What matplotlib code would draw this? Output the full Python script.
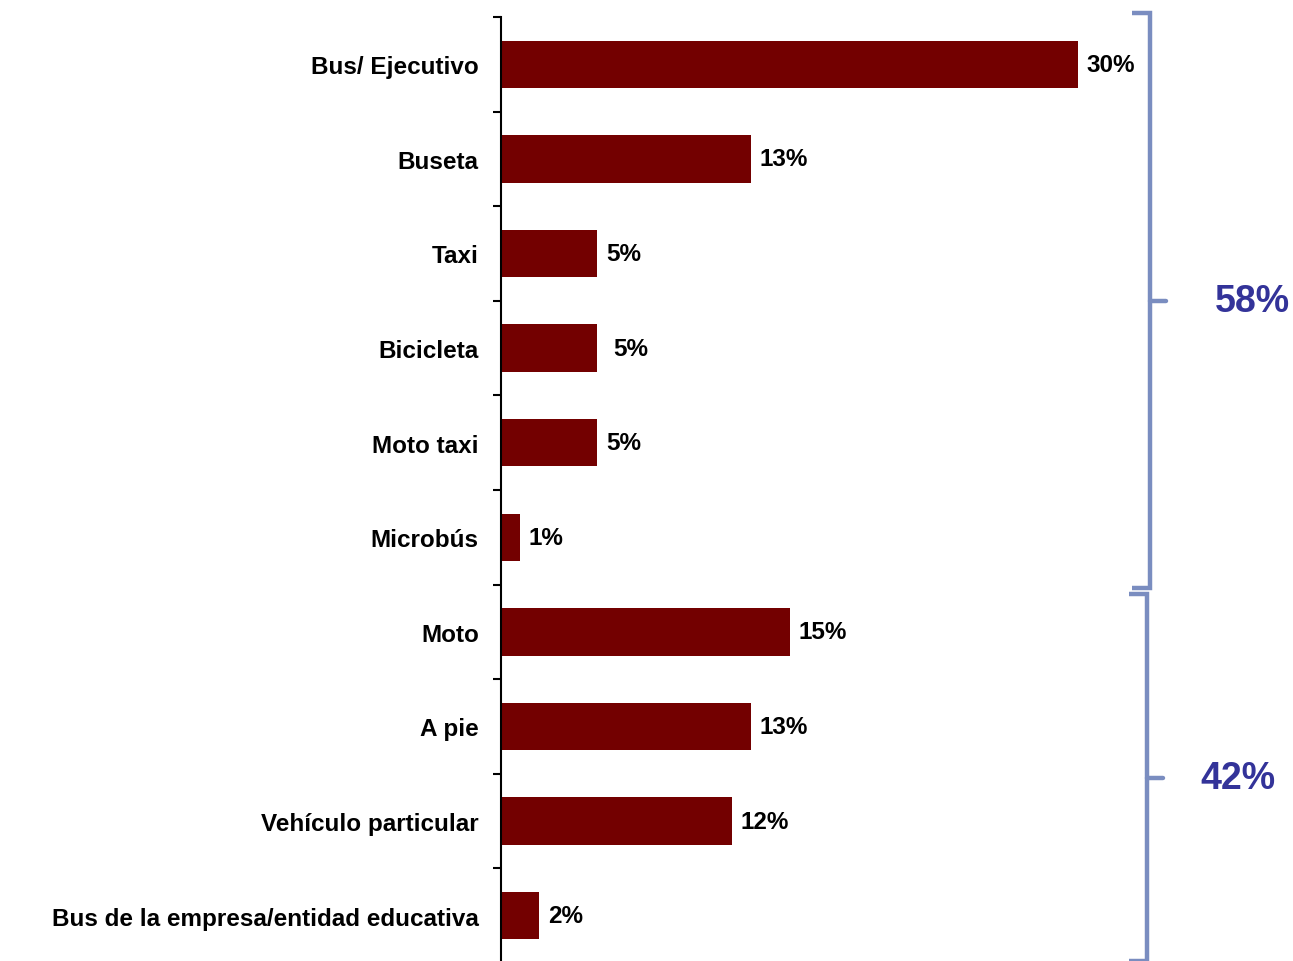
import matplotlib.pyplot as plt
import numpy as np

plt.rcParams['font.family'] = ['Liberation Sans', 'DejaVu Sans']

# data
categories = ["Bus/ Ejecutivo", "Buseta", "Taxi", "Bicicleta", "Moto taxi",
              "Microbús", "Moto", "A pie", "Vehículo particular",
              "Bus de la empresa/entidad educativa"]
values = [30, 13, 5, 5, 5, 1, 15, 13, 12, 2]
value_labels = ["30%", "13%", "5%", "5%", "5%", "1%", "15%", "13%", "12%", "2%"]
group_ranges = [(0, 5), (6, 9)]
group_labels = ["58%", "42%"]

bar_color = '#730000'
brace_color = '#7A8DC0'
group_text_color = '#333399'

fig = plt.figure(figsize=(12.93, 9.62), dpi=100)
ax = fig.add_axes([501/1293, -2/962, 577/1293, 1 - 16/962])

y = np.arange(len(categories))
ax.barh(y, values, height=0.5, color=bar_color)
ax.set_xlim(0, 30)
ax.set_ylim(len(categories) - 0.5, -0.5)

# value labels
for yi, v, lab in zip(y, values, value_labels):
    dx = 0.85 if lab == "5%" and yi == 3 else 0.45
    ax.text(v + dx, yi, lab, va='center', ha='left', fontsize=17.5,
            fontweight='bold', clip_on=False)

# axis styling
for s in ['top', 'right', 'bottom']:
    ax.spines[s].set_visible(False)
ax.spines['left'].set_linewidth(1.5)
ax.set_xticks([])
ax.set_yticks(y)
ax.set_yticklabels(categories, fontsize=17.5, fontweight='bold')
ax.tick_params(axis='y', which='major', length=0, pad=16)
ax.set_yticks(np.arange(len(categories)) - 0.5, minor=True)
ax.tick_params(axis='y', which='minor', length=6, width=1.5, direction='out')

# group brackets
bx = [33.75, 33.6]
for (g0, g1), lab, xb in zip(group_ranges, group_labels, bx):
    top = g0 - 0.5 - (0.04 if g0 == 0 else -0.1)
    bot = g1 + 0.5 - (0.02 if g1 == len(categories) - 1 else -0.04)
    mid = (top + bot) / 2
    ax.plot([xb - 0.95, xb, xb, xb - 0.95], [top, top, bot, bot],
            color=brace_color, lw=3.2, clip_on=False,
            solid_joinstyle='miter', solid_capstyle='butt')
    ax.plot([xb, xb + 0.8], [mid, mid], color=brace_color, lw=3.2,
            clip_on=False, solid_capstyle='round')
    ax.text(xb + 5.3 - (0.6 if g0 else 0), mid, lab, ha='center', va='center',
            fontsize=27, fontweight='bold', color=group_text_color,
            clip_on=False)

fig.savefig('out.png', dpi=100)
